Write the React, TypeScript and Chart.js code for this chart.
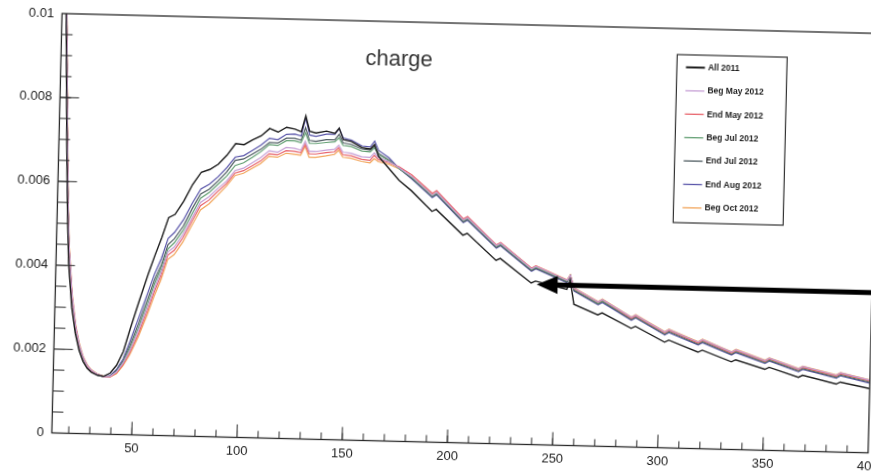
import React, { useEffect, useRef } from 'react';
import { Chart, registerables } from 'chart.js';

Chart.register(...registerables);

// ---- data (x in channel units, y in charge fraction) ----
const X_VALUES = [12, 13, 14, 15, 16, 17, 18, 20, 22, 24, 26, 28, 30, 33, 36, 39, 42, 45, 48, 52, 56, 59, 62, 65, 68, 72, 76, 80, 84, 88, 92, 96, 100, 104, 108, 112, 116, 120, 124, 127, 129, 131, 134, 139, 143, 145, 147, 151, 156, 160, 162, 164, 169, 174, 180, 190, 192, 205, 207, 221, 223, 238, 240, 255, 256.5, 258.5, 270, 272, 286, 288, 302, 304, 318, 320, 334, 336, 350, 352, 366, 368, 384, 386, 400];

const ALL_2011 = [0.013, 0.0112, 0.0099, 0.0082, 0.0065, 0.0051, 0.00405, 0.003, 0.00238, 0.00198, 0.00172, 0.00156, 0.00147, 0.0014, 0.00138, 0.00146, 0.00165, 0.00198, 0.00252, 0.0032, 0.00385, 0.0043, 0.00472, 0.0052, 0.00528, 0.0056, 0.006, 0.0063, 0.00637, 0.0065, 0.00672, 0.007, 0.00698, 0.0071, 0.0072, 0.00738, 0.0073, 0.00742, 0.00738, 0.00732, 0.0077, 0.00734, 0.0073, 0.00735, 0.0073, 0.00743, 0.00716, 0.00712, 0.00698, 0.00695, 0.00706, 0.00678, 0.0065, 0.00622,
  0.00598, 0.0055, 0.00555, 0.00495, 0.005, 0.00437, 0.00442, 0.00385, 0.0039, 0.00372, 0.00395, 0.00337, 0.00313, 0.00318, 0.00283, 0.00288, 0.00252, 0.00257, 0.0023, 0.00235, 0.00209, 0.00214, 0.00193, 0.00198, 0.00176, 0.00181, 0.00162, 0.00167, 0.00153];

const BEG_MAY_2012 = [0.013, 0.0118, 0.0105, 0.0088, 0.0071, 0.0056, 0.00448, 0.0033, 0.00258, 0.00212, 0.00182, 0.00163, 0.00152, 0.00142, 0.00137, 0.00138, 0.00149, 0.0017, 0.002, 0.0025, 0.00305, 0.0035, 0.00388, 0.00438, 0.0045, 0.0048, 0.0052, 0.00558, 0.00572, 0.00592, 0.0061, 0.00636, 0.00642, 0.00655, 0.00668, 0.00685, 0.00682, 0.00694, 0.00692, 0.00688, 0.0071, 0.00686, 0.00686, 0.0069, 0.00692, 0.00702, 0.00686, 0.00684, 0.00676, 0.00675, 0.00686, 0.00675, 0.00666, 0.00652,
  0.00632, 0.00589, 0.00596, 0.00531, 0.00537, 0.00472, 0.00478, 0.00419, 0.00425, 0.00394, 0.00406, 0.00375, 0.00344, 0.0035, 0.00309, 0.00315, 0.00276, 0.00282, 0.00254, 0.0026, 0.00232, 0.00238, 0.00214, 0.0022, 0.00196, 0.00202, 0.00183, 0.00189, 0.00173];

const END_MAY_2012 = [0.013, 0.0117, 0.0104, 0.0087, 0.007, 0.00555, 0.00445, 0.00328, 0.00256, 0.0021, 0.00181, 0.00162, 0.00151, 0.00142, 0.00137, 0.00137, 0.00147, 0.00167, 0.00195, 0.00242, 0.00297, 0.00342, 0.0038, 0.0043, 0.00442, 0.00472, 0.00512, 0.0055, 0.00564, 0.00585, 0.00604, 0.0063, 0.00636, 0.00648, 0.0066, 0.00678, 0.00676, 0.00686, 0.00685, 0.00682, 0.00702, 0.0068, 0.0068, 0.00684, 0.00686, 0.00696, 0.0068, 0.00678, 0.0067, 0.00668, 0.0068, 0.0067, 0.00664, 0.00654,
  0.00636, 0.00593, 0.006, 0.00534, 0.0054, 0.00474, 0.0048, 0.0042, 0.00426, 0.00394, 0.00405, 0.00374, 0.00343, 0.00349, 0.00307, 0.00313, 0.00274, 0.0028, 0.00252, 0.00258, 0.0023, 0.00236, 0.00212, 0.00218, 0.00194, 0.002, 0.00181, 0.00187, 0.00171];

const BEG_JUL_2012 = [0.013, 0.0116, 0.0103, 0.0086, 0.0069, 0.0055, 0.00438, 0.00322, 0.00252, 0.00208, 0.00179, 0.00161, 0.0015, 0.00141, 0.00136, 0.00138, 0.0015, 0.00172, 0.00206, 0.00256, 0.00315, 0.0036, 0.00397, 0.00445, 0.0046, 0.0049, 0.0053, 0.00568, 0.00582, 0.00602, 0.00622, 0.00648, 0.00655, 0.00668, 0.00682, 0.007, 0.00698, 0.0071, 0.0071, 0.00706, 0.0073, 0.00705, 0.00705, 0.00708, 0.0071, 0.0072, 0.00702, 0.007, 0.0069, 0.00688, 0.00698, 0.00682, 0.00668, 0.0065,
  0.0063, 0.00587, 0.00594, 0.00529, 0.00535, 0.0047, 0.00476, 0.00417, 0.00423, 0.00392, 0.00405, 0.00372, 0.00341, 0.00347, 0.00306, 0.00312, 0.00273, 0.00279, 0.00251, 0.00257, 0.00229, 0.00235, 0.00211, 0.00217, 0.00193, 0.00199, 0.0018, 0.00186, 0.0017];

const END_JUL_2012 = [0.013, 0.0117, 0.0104, 0.0087, 0.007, 0.00555, 0.00442, 0.00325, 0.00255, 0.0021, 0.0018, 0.00162, 0.00151, 0.00142, 0.00137, 0.00139, 0.00152, 0.00175, 0.00212, 0.00266, 0.00325, 0.0037, 0.00406, 0.00455, 0.0047, 0.005, 0.00542, 0.00578, 0.0059, 0.0061, 0.00632, 0.0066, 0.00664, 0.00676, 0.00688, 0.00705, 0.00704, 0.00716, 0.00716, 0.00712, 0.00742, 0.00712, 0.0071, 0.00715, 0.00715, 0.00728, 0.00708, 0.00705, 0.00695, 0.00692, 0.00702, 0.00685, 0.0067, 0.0065,
  0.00628, 0.00585, 0.00592, 0.00527, 0.00533, 0.00468, 0.00474, 0.00415, 0.00421, 0.0039, 0.00403, 0.0037, 0.00339, 0.00345, 0.00304, 0.0031, 0.00271, 0.00277, 0.00249, 0.00255, 0.00227, 0.00233, 0.00209, 0.00215, 0.00191, 0.00197, 0.00178, 0.00184, 0.00168];

const END_AUG_2012 = [0.013, 0.0116, 0.0103, 0.0086, 0.0069, 0.00545, 0.00435, 0.0032, 0.0025, 0.00206, 0.00178, 0.0016, 0.0015, 0.00141, 0.00136, 0.0014, 0.00155, 0.0018, 0.00222, 0.0028, 0.0034, 0.00385, 0.00422, 0.0047, 0.00485, 0.00515, 0.00555, 0.0059, 0.00602, 0.0062, 0.00642, 0.00668, 0.00672, 0.00685, 0.00698, 0.00715, 0.00712, 0.00725, 0.00726, 0.00722, 0.00765, 0.00725, 0.00722, 0.00728, 0.00728, 0.00742, 0.0072, 0.00715, 0.00702, 0.007, 0.00714, 0.00692, 0.00675, 0.0065,
  0.00626, 0.00583, 0.0059, 0.00525, 0.00531, 0.00466, 0.00472, 0.00413, 0.00419, 0.00388, 0.00404, 0.00368, 0.00337, 0.00343, 0.00302, 0.00308, 0.00269, 0.00275, 0.00247, 0.00253, 0.00225, 0.00231, 0.00207, 0.00213, 0.00189, 0.00195, 0.00176, 0.00182, 0.00166];

const BEG_OCT_2012 = [0.013, 0.0119, 0.0106, 0.0089, 0.0072, 0.0057, 0.00455, 0.00335, 0.00262, 0.00215, 0.00184, 0.00165, 0.00153, 0.00143, 0.00138, 0.00137, 0.00145, 0.00164, 0.0019, 0.00235, 0.00288, 0.00332, 0.0037, 0.0042, 0.00432, 0.00462, 0.00502, 0.0054, 0.00555, 0.00576, 0.00598, 0.00624, 0.0063, 0.00642, 0.00654, 0.00672, 0.0067, 0.0068, 0.00678, 0.00676, 0.00698, 0.00672, 0.00672, 0.00676, 0.0068, 0.0069, 0.00674, 0.00672, 0.00665, 0.00662, 0.00672, 0.00665, 0.0066, 0.0065,
  0.00632, 0.0059, 0.00596, 0.00531, 0.00537, 0.00473, 0.00479, 0.0042, 0.00426, 0.00395, 0.00407, 0.00376, 0.00345, 0.00351, 0.0031, 0.00316, 0.00277, 0.00283, 0.00255, 0.00261, 0.00233, 0.00239, 0.00215, 0.00221, 0.00197, 0.00203, 0.00184, 0.0019, 0.00174];

const SERIES_LABELS = ['All 2011', 'Beg May 2012', 'End May 2012', 'Beg Jul 2012', 'End Jul 2012', 'End Aug 2012', 'Beg Oct 2012'];
const SERIES_VALUES = [ALL_2011, BEG_MAY_2012, END_MAY_2012, BEG_JUL_2012, END_JUL_2012, END_AUG_2012, BEG_OCT_2012];
const SERIES_COLORS = ['#1c1c1c', '#c7a0d6', '#e8646c', '#64a074', '#4f5c62', '#5a56aa', '#f2a65c'];

const TITLE = 'charge';
const X_MIN = 12;
const X_MAX = 400;
const Y_MIN = 0;
const Y_MAX = 0.01;
const X_MAJOR = [50, 100, 150, 200, 250, 300, 350, 400];
const X_LABELS = ['50', '100', '150', '200', '250', '300', '350', '400'];
const X_MINOR_STEP = 10;
const Y_MAJOR = [0, 0.002, 0.004, 0.006, 0.008, 0.01];
const Y_LABELS = ['0', '0.002', '0.004', '0.006', '0.008', '0.01'];
const Y_MINOR_STEP = 0.0005;
const ARROW_TIP_X = 240.6;
const ARROW_TIP_Y = 0.00382;

const FONT = '"Liberation Sans", Arial, Helvetica, sans-serif';
const CANVAS_W = 900;
const CANVAS_H = 480;

const decorPlugin = {
  id: 'decor',
  afterDraw(chart: any) {
    const { ctx, chartArea: a, scales } = chart;
    const xs = scales.x;
    const ys = scales.y;
    ctx.save();
    const line = (x1: number, y1: number, x2: number, y2: number) => {
      ctx.beginPath();
      ctx.moveTo(x1, y1);
      ctx.lineTo(x2, y2);
      ctx.stroke();
    };
    // frame
    ctx.strokeStyle = '#2a2a2a';
    ctx.lineWidth = 1.3;
    ctx.strokeRect(a.left, a.top, a.right - a.left, a.bottom - a.top);

    // y ticks (inward)
    ctx.lineWidth = 1;
    for (let v = Y_MIN + Y_MINOR_STEP; v < Y_MAX - 1e-9; v += Y_MINOR_STEP) {
      const y = ys.getPixelForValue(v);
      line(a.left, y, a.left + 11, y);
    }
    Y_MAJOR.forEach((v) => {
      if (v <= Y_MIN || v >= Y_MAX) return;
      const y = ys.getPixelForValue(v);
      line(a.left, y, a.left + 19, y);
    });
    // x ticks (inward, upward)
    for (let v = Math.ceil(X_MIN / X_MINOR_STEP) * X_MINOR_STEP; v < X_MAX; v += X_MINOR_STEP) {
      if (v <= X_MIN) continue;
      const x = xs.getPixelForValue(v);
      line(x, a.bottom, x, a.bottom - 7);
    }
    X_MAJOR.forEach((v) => {
      if (v >= X_MAX) return;
      const x = xs.getPixelForValue(v);
      line(x, a.bottom, x, a.bottom - 13);
    });

    // tick labels
    ctx.fillStyle = '#222';
    ctx.font = `13px ${FONT}`;
    ctx.textAlign = 'right';
    ctx.textBaseline = 'middle';
    Y_MAJOR.forEach((v, i) => {
      ctx.fillText(Y_LABELS[i], a.left - 8, ys.getPixelForValue(v));
    });
    ctx.textAlign = 'center';
    ctx.textBaseline = 'top';
    X_MAJOR.forEach((v, i) => {
      ctx.fillText(X_LABELS[i], xs.getPixelForValue(v), a.bottom + 7);
    });

    // title inside plot
    ctx.fillStyle = '#333';
    ctx.font = `22px ${FONT}`;
    ctx.textAlign = 'center';
    ctx.textBaseline = 'alphabetic';
    ctx.fillText(TITLE, a.left + 338, a.top + 44);

    // legend box
    const lx = a.left + 616;
    const ly = a.top + 26;
    const lw = 110;
    const lh = 168;
    ctx.fillStyle = '#fff';
    ctx.fillRect(lx, ly, lw, lh);
    ctx.strokeStyle = '#333';
    ctx.lineWidth = 1.2;
    ctx.strokeRect(lx, ly, lw, lh);
    ctx.font = `bold 8.5px ${FONT}`;
    ctx.textAlign = 'left';
    ctx.textBaseline = 'middle';
    SERIES_LABELS.forEach((lab, i) => {
      const cy = ly + 12.5 + i * 23.4;
      ctx.strokeStyle = SERIES_COLORS[i];
      ctx.lineWidth = i === 0 ? 2 : 1.3;
      line(lx + 9, cy, lx + 28, cy);
      ctx.fillStyle = '#1e1e1e';
      ctx.fillText(lab, lx + 31, cy);
    });

    // arrow pointing at the All 2011 curve
    const tx = xs.getPixelForValue(ARROW_TIP_X);
    const ty = ys.getPixelForValue(ARROW_TIP_Y);
    ctx.fillStyle = '#000';
    ctx.strokeStyle = '#000';
    ctx.lineWidth = 5;
    line(tx + 16, ty, chart.width + 5, ty);
    ctx.beginPath();
    ctx.moveTo(tx, ty);
    ctx.lineTo(tx + 21, ty - 9);
    ctx.lineTo(tx + 21, ty + 9);
    ctx.closePath();
    ctx.fill();

    ctx.restore();
  },
};

export default function App() {
  const canvasRef = useRef<HTMLCanvasElement | null>(null);

  useEffect(() => {
    const canvas = canvasRef.current;
    if (!canvas) return;
    const datasets = SERIES_LABELS.map((label, i) => ({
      label,
      data: X_VALUES.map((x, j) => ({ x, y: SERIES_VALUES[i][j] })),
      borderColor: SERIES_COLORS[i],
      backgroundColor: SERIES_COLORS[i],
      borderWidth: i === 0 ? 1.4 : 1.2,
      pointRadius: 0,
      tension: 0,
      fill: false,
    }));
    const chart = new Chart(canvas, {
      type: 'line',
      data: { datasets },
      options: {
        animation: false,
        responsive: false,
        maintainAspectRatio: false,
        layout: { padding: { left: 62.4, top: 12, right: CANVAS_W - 878.9, bottom: CANVAS_H - 431.5 } },
        scales: {
          x: { type: 'linear', min: X_MIN, max: X_MAX, display: false },
          y: { type: 'linear', min: Y_MIN, max: Y_MAX, display: false },
        },
        plugins: {
          legend: { display: false },
          title: { display: false },
          tooltip: { enabled: false },
        },
      },
      plugins: [decorPlugin],
    });
    return () => chart.destroy();
  }, []);

  return (
    <div style={{ position: 'fixed', left: 0, top: 0, width: 871, height: 471, overflow: 'hidden', background: '#fff' }}>
      <div style={{ width: CANVAS_W, height: CANVAS_H, transform: 'rotate(1.4deg)', transformOrigin: '0 0' }}>
        <canvas ref={canvasRef} width={CANVAS_W} height={CANVAS_H} style={{ display: 'block' }} />
      </div>
    </div>
  );
}
